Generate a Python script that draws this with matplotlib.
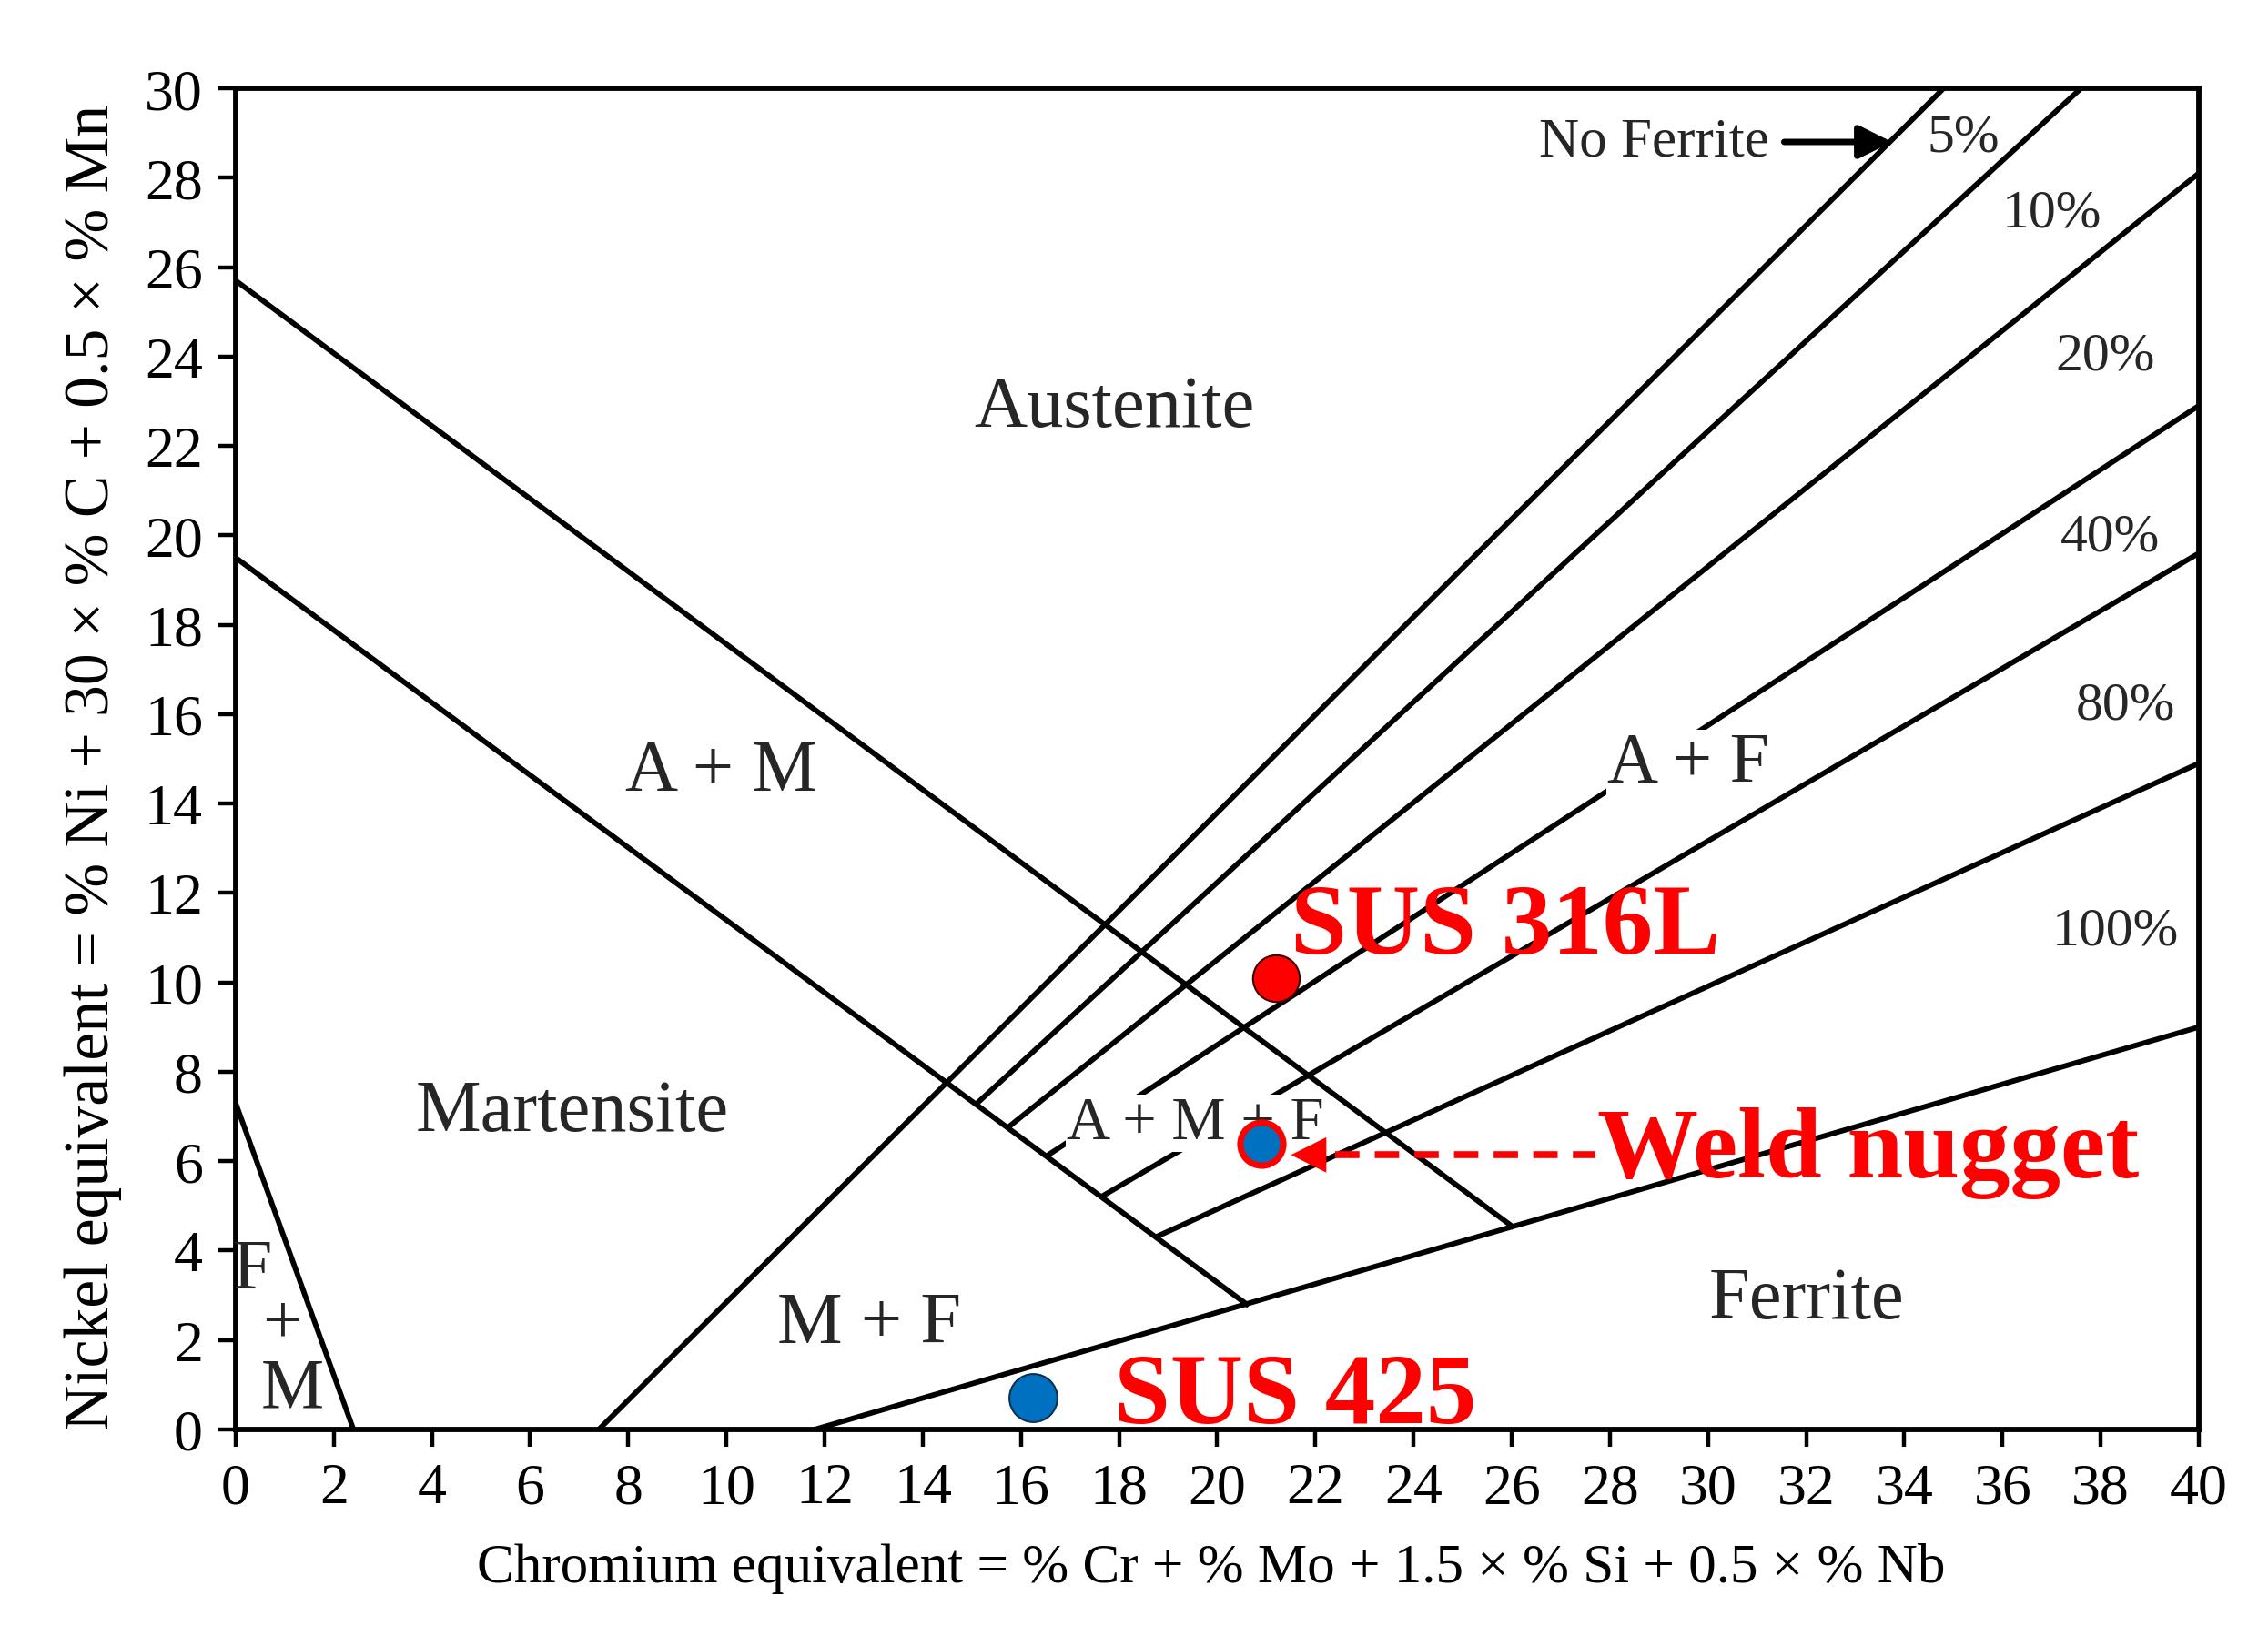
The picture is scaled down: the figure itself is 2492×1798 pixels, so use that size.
import numpy as np
import matplotlib
matplotlib.use("Agg")
from matplotlib import pyplot as plt

plt.rcParams['font.family'] = ['Liberation Serif', 'DejaVu Serif']

# Boundary lines of the Schaeffler diagram (Cr eq, Ni eq end points)
fm_x = [0, 2.4]
fm_y = [7.3, 0]
am_upper_x = [0, 26.0]
am_upper_y = [25.7, 4.55]
am_lower_x = [0, 20.6]
am_lower_y = [19.5, 2.8]

# Ferrite iso-lines: start and end points
ferrite_pct = ['0%', '5%', '10%', '20%', '40%', '80%', '100%']
ferrite_x0 = [7.4, 15.08, 15.73, 16.5, 17.63, 18.74, 11.8]
ferrite_y0 = [0, 7.27, 6.75, 6.1, 5.2, 4.3, 0]
ferrite_x1 = [34.8, 37.6, 40, 40, 40, 40, 40]
ferrite_y1 = [30, 30, 28.1, 22.9, 19.6, 14.9, 9.0]

# percent labels shown on the right
pct_labels = ['5%', '10%', '20%', '40%', '80%', '100%']
pct_label_x = [35.2, 37.0, 38.1, 38.2, 38.5, 38.3]
pct_label_y = [28.9, 27.2, 24.0, 19.95, 16.2, 11.15]

# region names
region_names = ['Austenite', 'A + M', 'Martensite', 'M + F', 'Ferrite']
region_x = [17.9, 9.9, 6.85, 12.9, 32.0]
region_y = [22.85, 14.7, 7.1, 2.35, 2.9]

# measured steels
steel_names = ['SUS 316L', 'Weld nugget', 'SUS 425']
steel_cr = [21.2, 20.9, 16.25]
steel_ni = [10.1, 6.4, 0.72]

fig = plt.figure(figsize=(24.92, 17.99), dpi=100)
ax = fig.add_axes([0.1039, 0.1262, 0.8656, 0.8193])

lw = 4.2
ax.plot(fm_x, fm_y, color='black', lw=lw, zorder=2)
ax.plot(am_upper_x, am_upper_y, color='black', lw=lw, zorder=2)
ax.plot(am_lower_x, am_lower_y, color='black', lw=lw, zorder=2)
for i in range(len(ferrite_pct)):
    ax.plot([ferrite_x0[i], ferrite_x1[i]], [ferrite_y0[i], ferrite_y1[i]],
            color='black', lw=lw, zorder=2, solid_capstyle='butt')

txt_color = '#262626'
for name, x, y in zip(region_names, region_x, region_y):
    ax.text(x, y, name, fontsize=58, color=txt_color, ha='center', va='center', zorder=3)

# labels that cut through the lines
ax.text(19.55, 6.85, 'A + M + F', fontsize=48, color=txt_color, ha='center', va='center',
        zorder=3, bbox=dict(facecolor='white', edgecolor='none', pad=1))
ax.text(29.6, 14.9, 'A + F', fontsize=56, color=txt_color, ha='center', va='center',
        zorder=3, bbox=dict(facecolor='white', edgecolor='none', pad=1))

# F + M corner
ax.text(0.35, 3.55, 'F', fontsize=56, color=txt_color, ha='center', va='center', zorder=3)
ax.text(0.95, 2.35, '+', fontsize=56, color=txt_color, ha='center', va='center', zorder=3)
ax.text(1.15, 0.9, 'M', fontsize=56, color=txt_color, ha='center', va='center', zorder=3)

for lab, x, y in zip(pct_labels, pct_label_x, pct_label_y):
    ax.text(x, y, lab, fontsize=43, color=txt_color, ha='center', va='center', zorder=3)

ax.text(28.9, 28.8, 'No Ferrite', fontsize=44, color=txt_color, ha='center', va='center', zorder=3)
ax.annotate('', xy=(33.8, 28.8), xytext=(31.5, 28.8),
            arrowprops=dict(arrowstyle='-|>', color='black', lw=5, mutation_scale=55), zorder=3)

# steel points
ax.plot(steel_cr[0], steel_ni[0], 'o', ms=37, mfc='#ff0000', mec='#400000', mew=1.5, zorder=5)
ax.plot(steel_cr[1], steel_ni[1], 'o', ms=34, mfc='#0070c0', mec='#ff0000', mew=5, zorder=5)
ax.plot(steel_cr[2], steel_ni[2], 'o', ms=38, mfc='#0070c0', mec='#103050', mew=1.5, zorder=5)

red_font = dict(fontsize=80, fontweight='bold', color='#ff0000', zorder=6)
ax.text(21.5, 10.67, steel_names[0], ha='left', va='baseline', **red_font)
ax.text(27.75, 5.66, steel_names[1], ha='left', va='baseline', **red_font)
ax.text(17.9, 0.16, steel_names[2], ha='left', va='baseline', **red_font)

# dashed arrow to the weld nugget
ax.plot([22.4, 27.7], [6.14, 6.14], color='#ff0000', lw=5.5, ls=(0, (3.5, 2.2)), zorder=6)
ax.annotate('', xy=(21.45, 6.14), xytext=(22.6, 6.14),
            arrowprops=dict(arrowstyle='-|>', color='#ff0000', lw=0, mutation_scale=70), zorder=6)

ax.set_xlim(0, 40)
ax.set_ylim(0, 30)
ax.set_xticks(np.arange(0, 41, 2))
ax.set_yticks(np.arange(0, 31, 2))
ax.tick_params(direction='out', length=14, width=3.2, labelsize=46, pad=12)
for s in ax.spines.values():
    s.set_linewidth(4.2)

ax.set_xlabel('Chromium equivalent = % Cr + % Mo + 1.5 × % Si + 0.5 × % Nb', fontsize=44)
ax.set_ylabel('Nickel equivalent = % Ni + 30 × % C + 0.5 × % Mn', fontsize=50)
ax.xaxis.set_label_coords(0.497, -0.084)
ax.yaxis.set_label_coords(-0.058, 0.494)

fig.savefig('out.png', dpi=100)
